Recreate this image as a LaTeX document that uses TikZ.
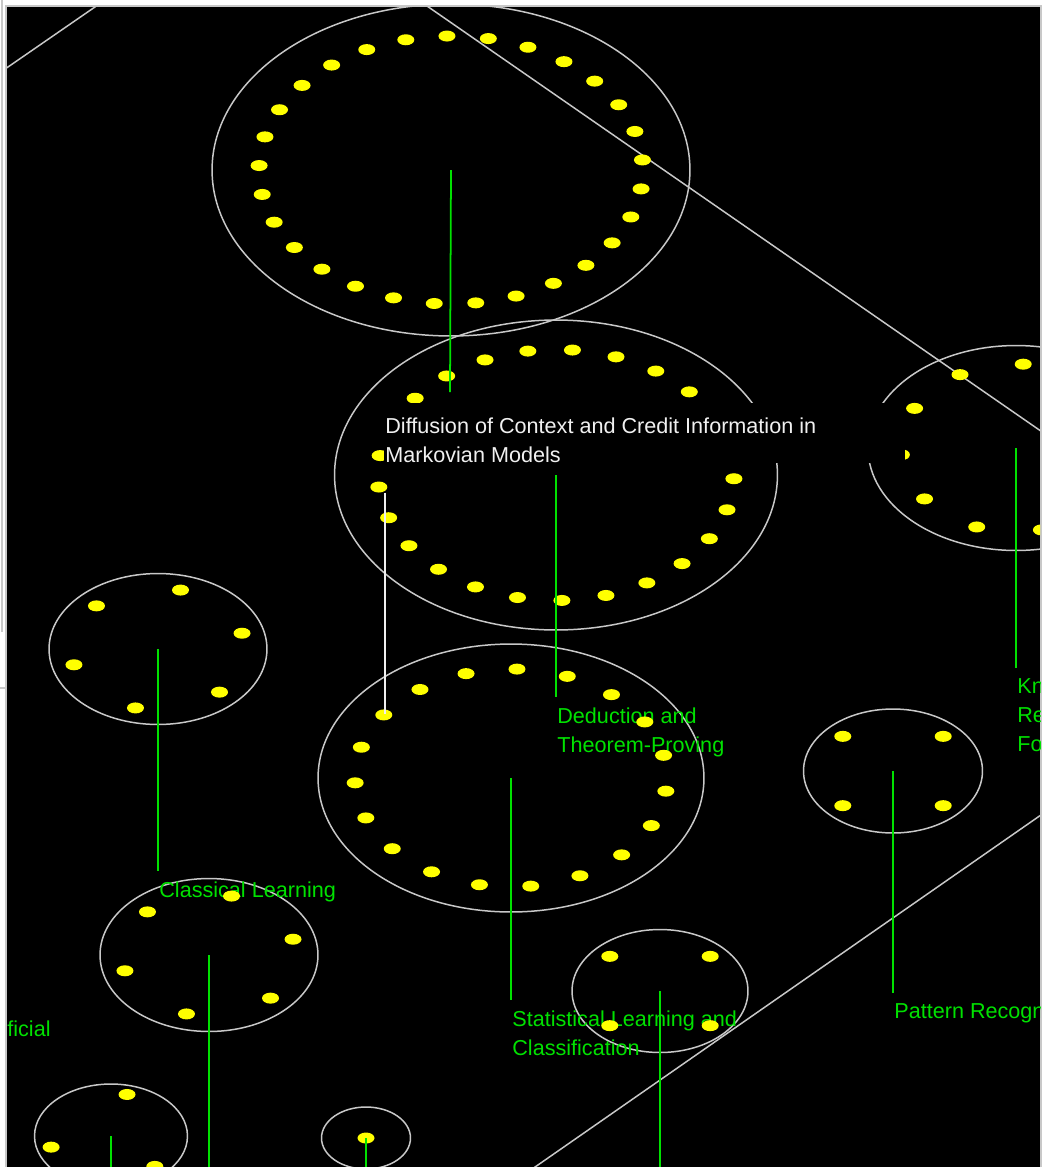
\documentclass[tikz,border=0pt]{standalone}
\usepackage{fontspec}
\setmainfont{Liberation Sans}
\usetikzlibrary{shapes.geometric, calc}
\definecolor{rimgrey}{RGB}{200,200,200}
\definecolor{catgreen}{RGB}{0,225,0}
\definecolor{hitwhite}{RGB}{240,240,240}
\definecolor{pipyellow}{RGB}{255,255,0}

\begin{document}
\begin{tikzpicture}[
    x=0.02cm, y=-0.02cm,
    cat/.style 2 args={ellipse,draw=rimgrey,line width=0.85pt,inner sep=0pt,
                minimum width=#1,minimum height=#2},
    stem/.style={catgreen,line width=1pt},
    lbl/.style={anchor=north west,inner sep=0pt,text=catgreen,align=left,
                font=\fontsize{12.3}{16.6}\selectfont},
    wire/.style={rimgrey,line width=0.85pt},
    pip/.style={pipyellow},
    hook/.style={hitwhite,line width=1pt}
]
  % Window
  \useasboundingbox (0,0) rectangle (1045,1167);
  \fill[white] (0,0) rectangle (1045,1167);
  \fill[black] (6,6) rectangle (1041,1167);
  \draw[wire] (6,1167) -- (6,6) -- (1041,6) -- (1041,1167);
  \draw[wire] (2,0) -- (2,632);
  \draw[wire] (0,688) -- (5,688);

  \begin{scope}
  \clip (7,7) rectangle (1040,1167);

  % Categories
  \node[cat={9.56cm}{6.64cm}] (upper) at (451,170) {};
  \node[cat={8.86cm}{6.2cm}] (deduct) at (556,475) {};
  \node[cat={7.72cm}{5.36cm}] (statl) at (511,778) {};
  \node[cat={5.92cm}{4.1cm}] (know) at (1016,448) {};
  \node[cat={4.36cm}{3.02cm}] (classic) at (158,649) {};
  \node[cat={4.36cm}{3.06cm}] (lowleft) at (209,955) {};
  \node[cat={3.06cm}{2.08cm}] (corner) at (111,1136) {};
  \node[cat={1.78cm}{1.24cm}] (tiny) at (366,1138) {};
  \node[cat={3.58cm}{2.48cm}] (pattern) at (893,771) {};
  \node[cat={3.52cm}{2.46cm}] (small) at (660,991) {};

  % Long links
  \draw[wire] (-50,107) -- (150,-31);
  \draw[wire] (400,-12.7) -- (1100,472);
  \draw[wire] (1100,773.9) -- (480,1205.3);

  % Labels
  \node[lbl] (deductlbl) at (557,707) {Deduction and\\Theorem-Proving};
  \node[lbl] (statllbl) at (512,1010) {Statistical Learning and\\Classification};
  \node[lbl] (knowlbl) at (1017,678) {Kn\\Re\\Fo};
  \node[lbl] (classiclbl) at (159,881) {Classical Learning};
  \node[lbl] (patternlbl) at (894,1003) {Pattern Recogn};
  \node[lbl] (artlbl) at (7,1020) {ficial};

  % Members
  \foreach \e/\rx/\ry/\n/\a in {upper/192/134/29/91.2, deduct/178/125.5/25/84.7,
      statl/156/109/19/87.8, know/115/84/11/86.4, classic/87/61/6/75,
      lowleft/87/61/6/75, corner/62/43/3/75, pattern/71/49/4/45,
      small/71/49/4/45, tiny/0/0/1/0}
    \foreach \k in {1,...,\n}
      \fill[pip] ($(\e.center)+({\rx*cos(\a+360*\k/\n)},{-\ry*sin(\a+360*\k/\n)})$)
        ellipse[x radius=0.17cm,y radius=0.11cm];

  % Stems
  \coordinate (bot) at (0,1180);
  \coordinate (upperend) at (450,392);
  \draw[stem] (upper.center) -- (upperend);
  \draw[stem,shorten >=0.2cm] (deduct.center) -- (deduct.center |- deductlbl.north);
  \draw[stem,shorten >=0.2cm] (statl.center) -- (statl.center |- statllbl.north);
  \draw[stem,shorten >=0.2cm] (know.center) -- (know.center |- knowlbl.north);
  \draw[stem,shorten >=0.2cm] (classic.center) -- (classic.center |- classiclbl.north);
  \draw[stem,shorten >=0.2cm] (pattern.center) -- (pattern.center |- patternlbl.north);
  \draw[stem] (lowleft.center) -- (lowleft.center |- bot);
  \draw[stem] (corner.center) -- (corner.center |- bot);
  \draw[stem] (tiny.center) -- (tiny.center |- bot);
  \draw[stem] (small.center) -- (small.center |- bot);

  % Highlighted member
  \coordinate (hit) at (385,714);
  \node[fill=black,inner sep=0pt,anchor=north west,minimum width=10.42cm,
        minimum height=1.2cm] (hbox) at (384,403) {};
  \node[lbl,text=hitwhite] (hl) at (385,417)
    {Diffusion of Context and Credit Information in\\Markovian Models};
  \draw[hook,shorten <=0.6cm] (hl.south west) -- (hl.south west |- hit);
  \end{scope}
\end{tikzpicture}
\end{document}
